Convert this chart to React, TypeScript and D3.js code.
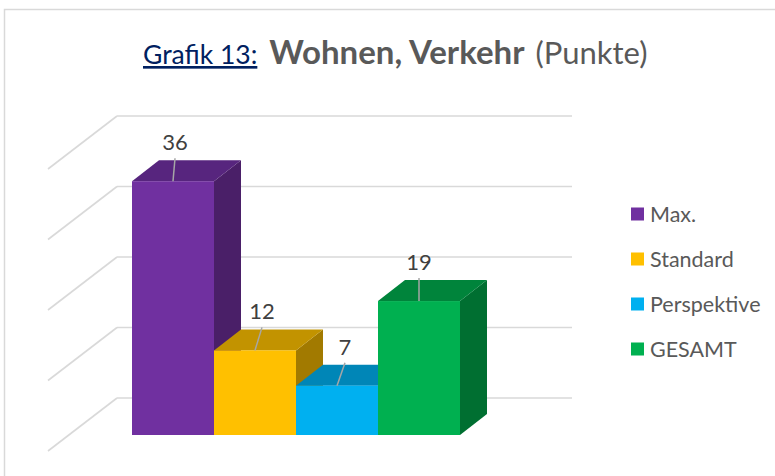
import * as d3 from "d3";

const categories = ["Max.", "Standard", "Perspektive", "GESAMT"];
const values = [36, 12, 7, 19];
const frontColors = ["#7030a0", "#ffc000", "#00b0f0", "#00b050"];
const topColors = ["#57257e", "#c29300", "#0086b7", "#00843b"];
const sideColors = ["#4a1f68", "#a27a00", "#007399", "#006f31"];
const gridTicks = [0, 10, 20, 30, 40];
// small manual nudges of the data labels, like in the original
const labelShift = [2, 7, 8, 0];

const W = 775;
const H = 476;
const DX = 27; // bar depth
const DY = -21;

export default function App() {
  const x = d3.scaleBand<string>().domain(categories).range([132, 460]).padding(0);
  const y = d3.scaleLinear().domain([0, 40]).range([435, 153]);

  // back wall sits behind the bars
  const wallDx = 48;
  const wallDy = -37;
  const wallLeft = x.range()[0] - 63 + wallDx;
  const wallRight = 572;
  const sideDx = -69;
  const sideDy = 53;

  const bw = x.bandwidth();

  return (
    <svg width={W} height={H} style={{ position: "absolute", left: 0, top: 0 }} fontFamily="Lato, sans-serif">
      <rect x={0} y={0} width={W} height={H} fill="#fff" />
      <rect x={4.5} y={9.5} width={W + 20} height={H + 20} fill="none" stroke="#d9d9d9" strokeWidth={1.5} />

      <text y={64} fontSize={26.5}>
        <tspan x={143} fill="#002060" textDecoration="underline">Grafik 13:</tspan>
        <tspan dx={12} fill="#595959" fontWeight="bold" fontSize={33}>Wohnen, Verkehr</tspan>
        <tspan dx={11} fill="#595959" fontSize={31}>(Punkte)</tspan>
      </text>

      <g stroke="#d9d9d9" strokeWidth={1.6} fill="none">
        {gridTicks.map((t) => {
          const yy = y(t) + wallDy;
          return (
            <g key={t}>
              <line x1={wallLeft} x2={wallRight} y1={yy} y2={yy} />
              <line x1={wallLeft} y1={yy} x2={wallLeft + sideDx} y2={yy + sideDy} />
            </g>
          );
        })}
      </g>

      {categories.map((c, i) => {
        const x0 = x(c)!;
        const x1 = x0 + bw;
        const yt = y(values[i]);
        const yb = y(0);
        const side = `M${x1},${yt} L${x1 + DX},${yt + DY} L${x1 + DX},${yb + DY} L${x1},${yb} Z`;
        const top = `M${x0},${yt} L${x0 + DX},${yt + DY} L${x1 + DX},${yt + DY} L${x1},${yt} Z`;
        return (
          <g key={c}>
            <path d={side} fill={sideColors[i]} />
            <path d={top} fill={topColors[i]} />
            <rect x={x0} y={yt} width={bw} height={yb - yt} fill={frontColors[i]} />
          </g>
        );
      })}

      {categories.map((c, i) => {
        const cx = x(c)! + bw / 2;
        const yt = y(values[i]);
        const lx = cx + labelShift[i];
        return (
          <g key={c + "-label"}>
            <line x1={cx} y1={yt} x2={lx} y2={yt - 23} stroke="#a6a6a6" strokeWidth={1.5} />
            <text x={lx} y={yt - 31} textAnchor="middle" fontSize={22} fill="#404040">
              {values[i]}
            </text>
          </g>
        );
      })}

      {categories.map((c, i) => {
        const cy = 214 + i * 45;
        return (
          <g key={c + "-legend"}>
            <rect x={631} y={cy - 6.5} width={13} height={13} fill={frontColors[i]} />
            <text x={650} y={cy} dy="0.35em" fontSize={21.5} fill="#595959">
              {c}
            </text>
          </g>
        );
      })}
    </svg>
  );
}
